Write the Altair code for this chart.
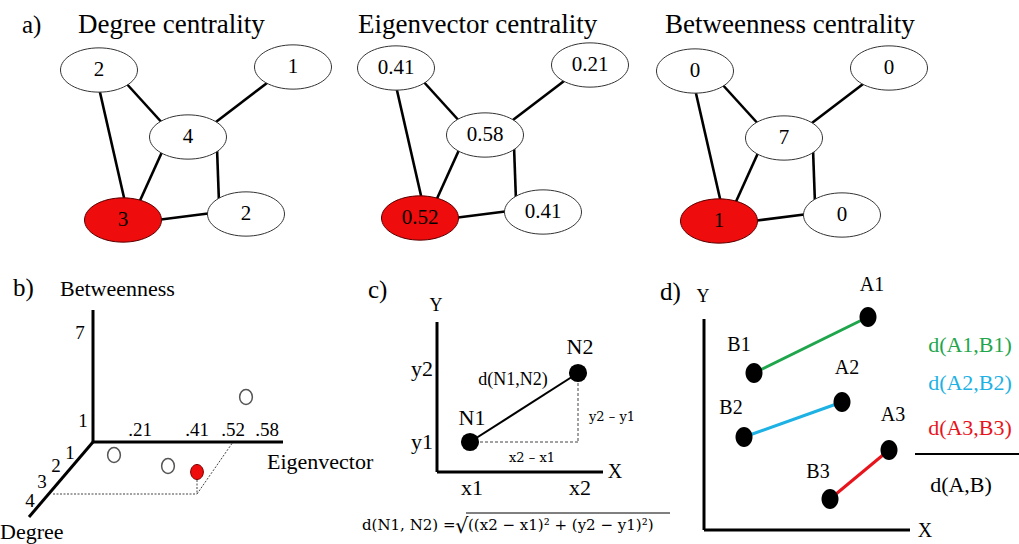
import altair as alt
import pandas as pd

W, H = 1019, 544
SERIF = "Liberation Serif"
MATH = "DejaVu Serif"
RED = "#ee0c0c"

# ---------------- panel a: three copies of the same 5-node network ----------------
panel_titles = ["Degree centrality", "Eigenvector centrality", "Betweenness centrality"]
title_x = [78, 358, 665]
panel_dx = [0, 297, 596]
panel_dy = [0, -2, 1]
node_x = [99, 293, 188, 123, 246]
node_y = [70, 67, 137, 220, 214]
node_is_red = [False, False, False, True, False]
degree_vals = ["2", "1", "4", "3", "2"]
eigen_vals = ["0.41", "0.21", "0.58", "0.52", "0.41"]
betw_vals = ["0", "0", "7", "1", "0"]
panel_vals = [degree_vals, eigen_vals, betw_vals]
edge_x1 = [99, 125, 271, 162, 217, 157]
edge_y1 = [88, 82, 80, 152, 148, 220]
edge_x2 = [125, 165, 212, 138, 219, 212]
edge_y2 = [202, 126, 125, 205, 203, 213]

# ---------------- panel b: 3-D scatter sketch ----------------
b_axis_x1 = [93, 93, 93]
b_axis_y1 = [310, 442, 442]
b_axis_x2 = [93, 283, 29]
b_axis_y2 = [442, 442, 517]
b_tick_labels = ["7", "1", ".21", ".41", ".52", ".58", "1", "2", "3", "4"]
b_tick_x = [80, 83, 140, 197, 233, 267, 70, 56, 42, 30]
b_tick_y = [333, 421, 430, 430, 430, 430, 453, 466, 482, 501]
b_ball_x = [114, 168, 246]
b_ball_y = [455, 466, 397]
b_red_x = [197]
b_red_y = [472]
b_dash_x1 = [197, 53, 197]
b_dash_y1 = [480, 494, 494]
b_dash_x2 = [197, 197, 233]
b_dash_y2 = [494, 494, 442]

# ---------------- panel c: Euclidean distance ----------------
c_axis_x1 = [437, 437]
c_axis_y1 = [322, 472]
c_axis_x2 = [437, 603]
c_axis_y2 = [472, 472]
c_node_x = [470, 578]
c_node_y = [442, 373]
c_dash_x1 = [470, 578]
c_dash_y1 = [442, 373]
c_dash_x2 = [578, 578]
c_dash_y2 = [442, 442]
c_labels = ["x1", "x2", "y1", "y2", "N1", "N2"]
c_label_x = [472, 580, 422, 422, 472, 580]
c_label_y = [488, 488, 442, 369, 418, 347]

# ---------------- panel d: distance between point sets ----------------
d_axis_x1 = [704, 704]
d_axis_y1 = [319, 530]
d_axis_x2 = [704, 910]
d_axis_y2 = [530, 530]
d_pair_colors = ["#1fa64c", "#1db1e4", "#e8141c"]
d_a_x = [868, 842, 889]
d_a_y = [317, 402, 450]
d_b_x = [754, 744, 830]
d_b_y = [373, 437, 499]
d_point_labels = ["A1", "B1", "A2", "B2", "A3", "B3"]
d_point_label_x = [872, 739, 847, 731, 893, 818]
d_point_label_y = [285, 345, 368, 408, 415, 472]
d_frac_labels = ["d(A1,B1)", "d(A2,B2)", "d(A3,B3)"]
d_frac_y = [345, 383, 428]

xs = alt.Scale(domain=[0, W], nice=False, zero=False)
ys = alt.Scale(domain=[0, H], nice=False, zero=False, reverse=True)


def X(f="x"):
    return alt.X(f"{f}:Q", scale=xs, axis=None)


def Y(f="y"):
    return alt.Y(f"{f}:Q", scale=ys, axis=None)


def segs(x1, y1, x2, y2, color="black", width=3, dash=None):
    df = pd.DataFrame({"x": x1, "y": y1, "x2": x2, "y2": y2})
    kw = dict(color=color, strokeWidth=width)
    if dash:
        kw["strokeDash"] = dash
    return alt.Chart(df).mark_rule(**kw).encode(
        x=X(), y=Y(), x2=alt.X2("x2:Q"), y2=alt.Y2("y2:Q"))


def texts(labels, x, y, size, color="black", align="center", baseline="middle", font=SERIF):
    df = pd.DataFrame({"x": x, "y": y, "t": labels})
    return alt.Chart(df).mark_text(fontSize=size, color=color, align=align,
                                   baseline=baseline, font=font).encode(
        x=X(), y=Y(), text="t:N")


def points(x, y, shape, size, fill, stroke, sw=1.0):
    df = pd.DataFrame({"x": x, "y": y})
    return alt.Chart(df).mark_point(shape=shape, size=size, filled=True, fill=fill,
                                    stroke=stroke, strokeWidth=sw, opacity=1).encode(
        x=X(), y=Y())


ELLIPSE = "M -1 0 A 1 0.575 0 1 1 1 0 A 1 0.575 0 1 1 -1 0 Z"
BALL = "M -0.85 0 A 0.85 1 0 1 1 0.85 0 A 0.85 1 0 1 1 -0.85 0 Z"

layers = []

# panel a
ex1, ey1, ex2, ey2 = [], [], [], []
wx, wy, rx, ry = [], [], [], []
lab, lx, ly = [], [], []
for p in range(3):
    dx, dy = panel_dx[p], panel_dy[p]
    ex1 += [v + dx for v in edge_x1]
    ey1 += [v + dy for v in edge_y1]
    ex2 += [v + dx for v in edge_x2]
    ey2 += [v + dy for v in edge_y2]
    for i in range(5):
        if node_is_red[i]:
            rx.append(node_x[i] + dx)
            ry.append(node_y[i] + dy)
        else:
            wx.append(node_x[i] + dx)
            wy.append(node_y[i] + dy)
        lab.append(panel_vals[p][i])
        lx.append(node_x[i] + dx)
        ly.append(node_y[i] + dy)

layers.append(segs(ex1, ey1, ex2, ey2, width=2.6))
layers.append(points(wx, wy, ELLIPSE, 77 * 77, "white", "#333333", 1))
layers.append(points(rx, ry, ELLIPSE, 77 * 77, RED, "#5a0000", 1))
layers.append(texts(lab, lx, ly, 21))
layers.append(texts(panel_titles, title_x, [33, 33, 33], 27, align="left", baseline="alphabetic"))
layers.append(texts(["a)"], [22], [33], 25, align="left", baseline="alphabetic"))

# panel b
layers.append(segs(b_dash_x1, b_dash_y1, b_dash_x2, b_dash_y2, color="#444444", width=1, dash=[2, 1.5]))
layers.append(segs(b_axis_x1, b_axis_y1, b_axis_x2, b_axis_y2, width=3))
layers.append(texts(b_tick_labels, b_tick_x, b_tick_y, 19))
layers.append(points(b_ball_x, b_ball_y, BALL, 225, "white", "#555555", 1.5))
layers.append(points(b_red_x, b_red_y, BALL, 225, RED, "#7a0000", 1))
layers.append(texts(["b)"], [13], [296], 25, align="left", baseline="alphabetic"))
layers.append(texts(["Betweenness"], [60], [296], 22, align="left", baseline="alphabetic"))
layers.append(texts(["Eigenvector"], [267], [462], 22, align="left"))
layers.append(texts(["Degree"], [0], [539], 22, align="left", baseline="alphabetic"))

# panel c
layers.append(segs(c_dash_x1, c_dash_y1, c_dash_x2, c_dash_y2, color="#444444", width=1, dash=[3, 2]))
layers.append(segs([c_node_x[0]], [c_node_y[0]], [c_node_x[1]], [c_node_y[1]], width=2))
layers.append(segs(c_axis_x1, c_axis_y1, c_axis_x2, c_axis_y2, width=3))
layers.append(points(c_node_x, c_node_y, "circle", 330, "black", "black", 0))
layers.append(texts(c_labels, c_label_x, c_label_y, 22))
layers.append(texts(["d(N1,N2)"], [513], [380], 18))
layers.append(texts(["y2 \u2013 y1"], [612], [417], 13, font=MATH))
layers.append(texts(["x2 \u2013 x1"], [532], [458], 13, font=MATH))
layers.append(texts(["c)"], [368], [298], 25, align="left", baseline="alphabetic"))
layers.append(texts(["Y"], [436], [311], 18, baseline="alphabetic"))
layers.append(texts(["X"], [615], [478], 20, baseline="alphabetic"))
layers.append(texts(["d(N1, N2) ="], [362], [525], 15, align="left", font=MATH))
layers.append(texts(["\u221a"], [455], [533], 21, align="left", baseline="alphabetic", font=MATH))
layers.append(texts(["((x2 \u2212 x1)\u00b2 + (y2  \u2212 y1)\u00b2)"], [468], [525], 15, align="left", font=MATH))
layers.append(segs([466], [513], [670], [513], width=1))

# panel d
for i in range(3):
    layers.append(segs([d_a_x[i]], [d_a_y[i]], [d_b_x[i]], [d_b_y[i]], color=d_pair_colors[i], width=3))
layers.append(segs(d_axis_x1, d_axis_y1, d_axis_x2, d_axis_y2, width=3))
layers.append(points(d_a_x + d_b_x, d_a_y + d_b_y, BALL, 400, "black", "black", 0))
layers.append(texts(d_point_labels, d_point_label_x, d_point_label_y, 20))
for i in range(3):
    layers.append(texts([d_frac_labels[i]], [970], [d_frac_y[i]], 22, color=d_pair_colors[i]))
layers.append(segs([915], [454], [1019], [454], width=2))
layers.append(texts(["d(A,B)"], [961], [485], 22))
layers.append(texts(["d)"], [660], [300], 25, align="left", baseline="alphabetic"))
layers.append(texts(["Y"], [703], [302], 18, baseline="alphabetic"))
layers.append(texts(["X"], [925], [537], 20, baseline="alphabetic"))

chart = alt.layer(*layers).properties(
    width=W, height=H, padding=0, autosize="none", background="white"
).configure_view(stroke=None)

chart.save("out.html", embed_options={"renderer": "svg", "actions": False})
